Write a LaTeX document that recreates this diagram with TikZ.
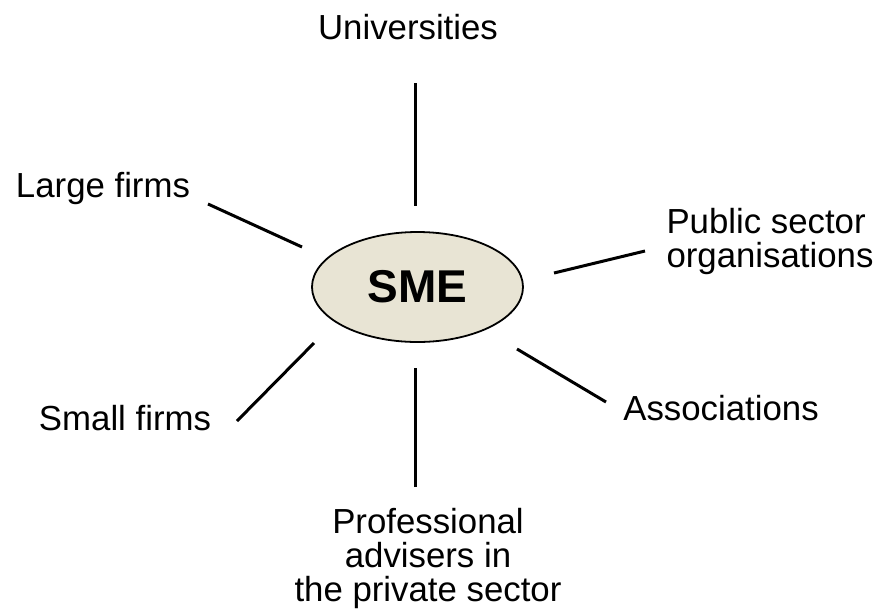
\documentclass[tikz,border=0pt]{standalone}
\usepackage{fontspec}
\setmainfont{Liberation Sans}
\usetikzlibrary{shapes.geometric}
\definecolor{smefill}{HTML}{E8E4D4}
\tikzset{
  lbl/.style={inner sep=0pt, font=\fontsize{34.8}{34}\selectfont},
  link/.style={line width=3pt, black},
  core/.style={ellipse, draw=black, line width=1.8pt, fill=smefill,
    minimum width=211pt, minimum height=110pt, inner sep=0pt,
    font=\fontsize{46}{48}\selectfont\bfseries}
}
\begin{document}
\begin{tikzpicture}[x=1pt,y=-1pt]
\useasboundingbox (0,0) rectangle (883,614);
\node[core] (sme) at (417.5,287) {SME};
\node[lbl, anchor=base] (uni) at (408,39) {Universities};
\node[lbl, anchor=base] (large) at (103,197) {Large firms};
\node[lbl, anchor=north, align=left] (pub) at (770,208) {Public sector\\organisations};
\node[lbl, anchor=base] (small) at (125,430) {Small firms};
\node[lbl, anchor=base] (assoc) at (721,420) {Associations};
\node[lbl, anchor=north, align=center] (prof) at (428,508) {Professional\\advisers in\\the private sector};
% line ends
\coordinate (u1) at (415.5,83);  \coordinate (u2) at (415.5,206);
\coordinate (l1) at (208,204);   \coordinate (l2) at (302,247);
\coordinate (p1) at (645,251);   \coordinate (p2) at (554,273);
\coordinate (s1) at (237,421);   \coordinate (s2) at (314,343);
\coordinate (a1) at (606,402);   \coordinate (a2) at (517,349);
\coordinate (f1) at (415.5,487); \coordinate (f2) at (415.5,368);
\draw[link] (u1) -- (u2);
\draw[link] (l1) -- (l2);
\draw[link] (p1) -- (p2);
\draw[link] (s1) -- (s2);
\draw[link] (a1) -- (a2);
\draw[link] (f1) -- (f2);
\end{tikzpicture}
\end{document}
